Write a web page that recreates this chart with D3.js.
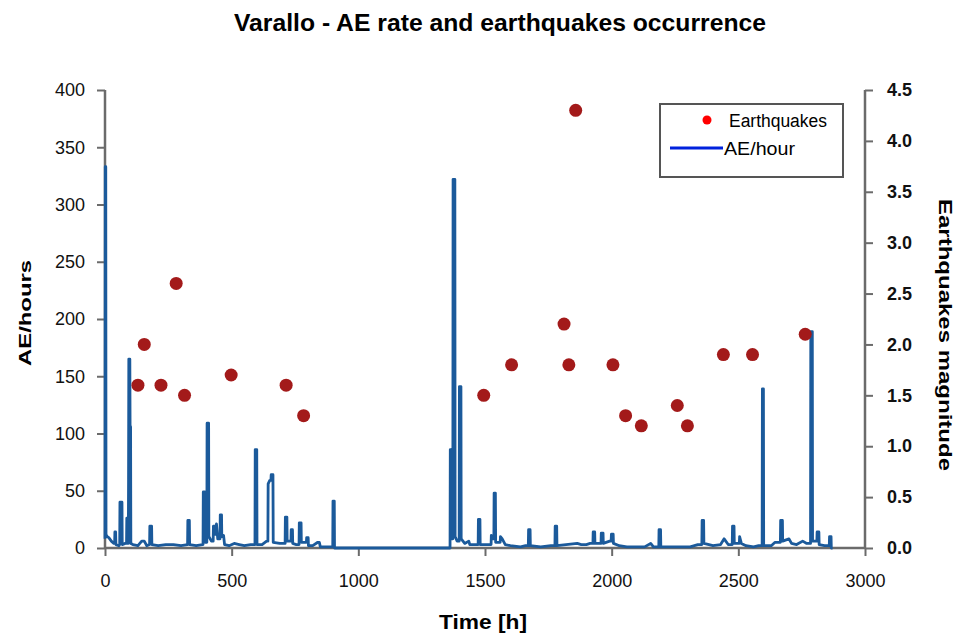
<!DOCTYPE html>
<html>
<head>
<meta charset="utf-8">
<script src="https://cdn.jsdelivr.net/npm/d3@7"></script>
<style>
  body { margin: 0; background: #fff; }
  svg { font-family: "Liberation Sans", Arial, sans-serif; }
</style>
</head>
<body>
<svg id="chart" width="956" height="637"></svg>
<script>
// earthquakes: time [h] and magnitude
const quakeTime = [130, 155, 221, 281, 314, 498, 715, 784, 1495, 1605, 1812, 1831, 1858,
  2005, 2055, 2117, 2259, 2299, 2441, 2556, 2764];
const quakeMag = [1.6, 2.0, 1.6, 2.6, 1.5, 1.7, 1.6, 1.3, 1.5, 1.8, 2.2, 1.8, 4.3,
  1.8, 1.3, 1.2, 1.4, 1.2, 1.9, 1.9, 2.1];

// AE rate, [time h, AE/hour]
const aeRate = [
  [0,8],[1,333],[3,333],[4,12],[8,10],[15,9],[25,6],[35,4],[38,4],[39,14],[42,14],[43,3],[55,2],
  [58,3],[59,40],[67,40],[68,3],[80,4],[85,4],[86,26],[88,26],[89,4],[92,4],[93,60],[94,165],
  [98,165],[99,106],[101,106],[102,4],[110,3],[130,2],[145,6],[155,6],[165,2],[176,3],[177,19],
  [184,19],[185,3],[210,2],[240,3],[270,3],[300,2],[326,3],[327,24],[333,24],[334,3],[360,2],
  [385,3],[387,3],[388,49],[394,49],[395,5],[402,5],[403,109],[409,109],[410,10],[420,6],[427,6],
  [428,19],[434,19],[435,12],[440,21],[445,8],[454,8],[455,29],[460,29],[461,10],[468,11],[472,3],
  [490,2],[510,4],[530,3],[550,2],[575,3],[592,3],[593,86],[599,86],[600,3],[620,3],[638,6],
  [643,6],[644,56],[650,59],[655,59],[656,64],[663,64],[664,5],[690,4],[711,4],[712,27],[718,27],
  [719,6],[734,6],[735,16],[740,16],[741,4],[755,3],[766,3],[767,22],[774,22],[775,5],[795,5],
  [796,9],[802,9],[803,2],[820,2],[840,5],[846,5],[850,1],[880,1],[899,1],[900,41],[905,41],[906,0],
  [1000,0],[1200,0],[1360,0],
  [1362,0],[1363,86],[1367,86],[1368,8],[1373,8],[1374,322],[1381,322],[1382,10],[1390,6],
  [1398,6],[1399,141],[1405,141],[1406,8],[1420,4],[1436,6],[1440,3],[1460,3],[1473,3],[1474,25],
  [1480,25],[1481,3],[1510,3],[1524,3],[1525,11],[1530,8],[1535,8],[1536,48],[1541,48],[1542,5],
  [1560,5],[1561,10],[1568,8],[1580,3],[1600,2],[1640,1],[1660,2],[1671,2],[1672,16],[1678,16],
  [1679,2],[1720,1],[1760,2],[1776,2],[1777,19],[1783,19],[1784,2],[1820,3],[1864,4],[1880,3],
  [1900,3],[1915,4],[1926,4],[1927,14],[1933,14],[1934,4],[1958,4],[1959,13],[1966,13],[1967,4],
  [1992,6],[1998,6],[1999,12],[2006,12],[2007,4],[2030,2],[2060,1],[2100,1],[2130,1],[2154,4],
  [2165,1],[2186,1],[2187,16],[2193,16],[2194,1],[2230,1],[2270,1],[2310,1],[2340,3],[2356,3],
  [2357,24],[2363,24],[2364,4],[2400,2],[2430,3],[2444,8],[2460,3],[2476,3],[2477,19],[2483,19],
  [2484,4],[2504,4],[2505,10],[2512,4],[2530,2],[2560,1],[2580,2],[2594,2],[2595,139],[2599,139],
  [2600,2],[2630,2],[2645,5],[2655,5],[2666,5],[2667,24],[2674,24],[2675,6],[2700,8],[2710,4],
  [2730,3],[2754,6],[2770,4],[2785,4],[2786,189],[2792,189],[2793,6],[2810,6],[2811,14],[2818,14],
  [2819,3],[2840,2],[2859,2],[2860,10],[2866,10],[2867,0],[2872,0]
];

const timeTicks = [0, 500, 1000, 1500, 2000, 2500, 3000];
const aeTicks = [0, 50, 100, 150, 200, 250, 300, 350, 400];
const magTicks = [0, 0.5, 1, 1.5, 2, 2.5, 3, 3.5, 4, 4.5];

const svg = d3.select('#chart');
const x = d3.scaleLinear().domain([0, 3000]).range([105, 865]);
const yL = d3.scaleLinear().domain([0, 400]).range([548, 90]);
const yR = d3.scaleLinear().domain([0, 4.5]).range([548, 90]);
const axisColor = '#6b6b6b';

// title
svg.append('text')
  .attr('x', 500).attr('y', 31)
  .attr('text-anchor', 'middle')
  .attr('textLength', 532).attr('lengthAdjust', 'spacingAndGlyphs')
  .style('font-size', '24px').style('font-weight', 'bold')
  .text('Varallo - AE rate and earthquakes occurrence');

// axes
const gx = svg.append('g').attr('transform', 'translate(0,548)')
  .call(d3.axisBottom(x).tickValues(timeTicks).tickSize(8).tickPadding(18).tickFormat(d3.format('d')));
const gl = svg.append('g').attr('transform', 'translate(105,0)')
  .call(d3.axisLeft(yL).tickValues(aeTicks).tickSize(8).tickPadding(12).tickFormat(d3.format('d')));
const gr = svg.append('g').attr('transform', 'translate(865,0)')
  .call(d3.axisRight(yR).tickValues(magTicks).tickSize(8).tickPadding(14).tickFormat(d3.format('.1f')));

[gx, gl, gr].forEach(g => {
  g.select('.domain').attr('stroke', axisColor).attr('stroke-width', 2.5);
  g.selectAll('.tick line').attr('stroke', axisColor).attr('stroke-width', 2);
  g.selectAll('.tick text').attr('fill', '#111').style('font-size', '18px');
});
gx.select('.domain').attr('d', `M${x(0)},0H${x(3000)}`);
gl.select('.domain').attr('d', `M0,${yL(400)}V${yL(0)}`);
gr.select('.domain').attr('d', `M0,${yR(4.5)}V${yR(0)}`);
gr.selectAll('.tick text').style('font-weight', 'bold');

// axis titles
svg.append('text')
  .attr('x', x(1500) - 2).attr('y', 629)
  .attr('text-anchor', 'middle')
  .attr('textLength', 88).attr('lengthAdjust', 'spacingAndGlyphs')
  .style('font-size', '20px').style('font-weight', 'bold')
  .text('Time [h]');
svg.append('text')
  .attr('transform', 'translate(31,313) rotate(-90)')
  .attr('text-anchor', 'middle')
  .attr('textLength', 106).attr('lengthAdjust', 'spacingAndGlyphs')
  .style('font-size', '17px').style('font-weight', 'bold')
  .text('AE/hours');
svg.append('text')
  .attr('transform', 'translate(939,335) rotate(90)')
  .attr('text-anchor', 'middle')
  .attr('textLength', 272).attr('lengthAdjust', 'spacingAndGlyphs')
  .style('font-size', '18px').style('font-weight', 'bold')
  .text('Earthquakes magnitude');

// AE line
const line = d3.line().x(d => x(d[0])).y(d => yL(d[1]));
svg.append('path')
  .datum(aeRate)
  .attr('d', line)
  .attr('fill', 'none')
  .attr('stroke', '#1b5a9b')
  .attr('stroke-width', 2.8)
  .attr('stroke-linejoin', 'round');

// earthquake points
svg.append('g').selectAll('circle')
  .data(quakeTime.map((t, i) => [t, quakeMag[i]]))
  .join('circle')
  .attr('cx', d => x(d[0]))
  .attr('cy', d => yR(d[1]))
  .attr('r', 6.5)
  .attr('fill', '#a31a1a');

// legend
const lg = svg.append('g');
lg.append('rect')
  .attr('x', 660).attr('y', 104).attr('width', 183).attr('height', 73)
  .attr('fill', '#fff').attr('stroke', '#555').attr('stroke-width', 2);
lg.append('circle').attr('cx', 707).attr('cy', 120).attr('r', 4.5).attr('fill', '#ff0000');
lg.append('text').attr('x', 729).attr('y', 127)
  .attr('textLength', 98).attr('lengthAdjust', 'spacingAndGlyphs')
  .style('font-size', '18px').text('Earthquakes');
lg.append('line').attr('x1', 670).attr('x2', 723).attr('y1', 148).attr('y2', 148)
  .attr('stroke', '#0022dd').attr('stroke-width', 3);
lg.append('text').attr('x', 724).attr('y', 155)
  .attr('textLength', 71).attr('lengthAdjust', 'spacingAndGlyphs')
  .style('font-size', '18px').text('AE/hour');
</script>
</body>
</html>
